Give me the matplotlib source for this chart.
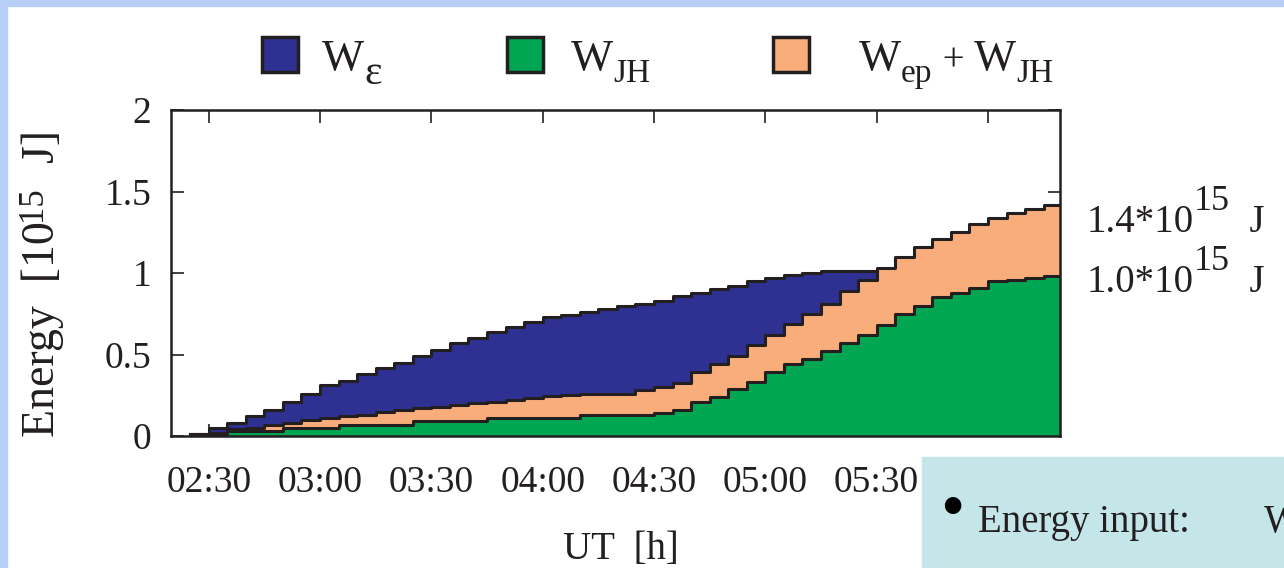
import numpy as np
import matplotlib
matplotlib.use("Agg")
import matplotlib.pyplot as plt
from matplotlib.patches import Rectangle

plt.rcParams['font.family'] = ['Liberation Serif', 'DejaVu Serif']

# UT grid, minutes after 00:00 (every 5 min)
ut_min = np.arange(145, 381, 5)
ut = ut_min / 60.0

# cumulative energies [10^15 J]
w_eps = [0.01, 0.05, 0.08, 0.12, 0.16, 0.21, 0.26, 0.31, 0.34, 0.38,
         0.42, 0.45, 0.49, 0.53, 0.57, 0.60, 0.64, 0.67, 0.70, 0.73,
         0.74, 0.76, 0.78, 0.80, 0.81, 0.83, 0.86, 0.88, 0.90, 0.92,
         0.95, 0.97, 0.99, 1.00, 1.01, 1.01, 1.01, 1.01, 1.01, 1.01,
         1.01, 1.01, 1.01, 1.01, 1.01, 1.01, 1.01, 1.01]
w_ep_jh = [0.01, 0.02, 0.04, 0.05, 0.07, 0.08, 0.10, 0.11, 0.12, 0.13,
           0.15, 0.16, 0.17, 0.18, 0.19, 0.20, 0.21, 0.22, 0.235, 0.245,
           0.25, 0.26, 0.26, 0.26, 0.28, 0.30, 0.325, 0.39, 0.44, 0.49,
           0.56, 0.62, 0.69, 0.75, 0.81, 0.89, 0.96, 1.03, 1.10, 1.16,
           1.21, 1.25, 1.30, 1.34, 1.37, 1.39, 1.42, 1.43]
w_jh = [0.01, 0.01, 0.03, 0.03, 0.03, 0.05, 0.05, 0.05, 0.07, 0.07,
        0.07, 0.07, 0.09, 0.09, 0.09, 0.09, 0.11, 0.11, 0.11, 0.11,
        0.11, 0.13, 0.13, 0.13, 0.13, 0.14, 0.16, 0.21, 0.24, 0.29,
        0.33, 0.39, 0.44, 0.47, 0.52, 0.57, 0.62, 0.68, 0.75, 0.80,
        0.85, 0.88, 0.91, 0.95, 0.96, 0.97, 0.98, 0.99]

xticks = [2.5, 3.0, 3.5, 4.0, 4.5, 5.0, 5.5, 6.0]
xlabels = ['02:30', '03:00', '03:30', '04:00', '04:30', '05:00', '05:30', '06:00']
yticks = [0, 0.5, 1, 1.5, 2]
ylabels = ['0', '0.5', '1', '1.5', '2']

c_blue = '#2e3192'
c_green = '#00a651'
c_orange = '#f9ad7a'
c_edge = '#231f20'

W, H = 1284, 568
fig = plt.figure(figsize=(W / 100, H / 100), dpi=100)
fig.patch.set_facecolor('white')
rend = fig.canvas.get_renderer()


def put_pieces(x, y, pieces, rotation=0, zorder=3):
    # x, y in pixels from top-left; pieces = (text, size, raise_px)
    for s, size, up in pieces:
        if rotation == 90:
            px, py = x - up, y
        else:
            px, py = x, y - up
        t = fig.text(px / W, 1 - py / H, s, fontsize=size, rotation=rotation,
                     rotation_mode='anchor', ha='left', va='baseline',
                     zorder=zorder, color='#231f20')
        bb = t.get_window_extent(rend)
        if rotation == 90:
            y -= bb.height
        else:
            x += bb.width


# slide background bits
fig.patches.append(Rectangle((0, 1 - 6 / H), 1, 6 / H, transform=fig.transFigure,
                             color='#b7cef7', zorder=0))
fig.patches.append(Rectangle((0, 0), 7 / W, 1, transform=fig.transFigure,
                             color='#b7cef7', zorder=0))

ax = fig.add_axes([171 / W, 1 - 436 / H, (1060 - 171) / W, (436 - 110) / H])

ax.fill_between(ut, 0, w_eps, step='post', color=c_blue, lw=0, zorder=1)
ax.step(ut, w_eps, where='post', color=c_edge, lw=2.2, zorder=2)
ax.fill_between(ut, 0, w_ep_jh, step='post', color=c_orange, lw=0, zorder=3)
ax.step(ut, w_ep_jh, where='post', color=c_edge, lw=2.2, zorder=4)
ax.fill_between(ut, 0, w_jh, step='post', color=c_green, lw=0, zorder=5)
ax.step(ut, w_jh, where='post', color=c_edge, lw=2.2, zorder=6)

ax.set_xlim(2.3306, 6.3235)
ax.set_ylim(0, 2)
ax.set_xticks(xticks)
ax.set_xticklabels(xlabels)
ax.set_yticks(yticks)
ax.set_yticklabels(ylabels)
ax.tick_params(direction='in', length=9, width=1.2, top=True, right=True,
               labelsize=27, colors='#231f20')
ax.tick_params(axis='x', pad=21)
ax.tick_params(axis='y', pad=14)
ax.get_xticklabels()[-1].set_visible(False)  # hidden behind the slide box
for s in ax.spines.values():
    s.set_linewidth(1.8)
    s.set_color(c_edge)
    s.set_zorder(7)

# axis labels
put_pieces(54, 437, [('Energy  [10', 33, 0), ('15', 25, 13), ('  J]', 33, 0)], rotation=90)
fig.text(621 / W, 1 - 550 / H, 'UT  [h]', ha='center', va='center', fontsize=28,
         color='#231f20')

# legend on top
leg = [(262, c_blue, [('W', 32, 0), ('ε', 30, -14)], 322),
       (507, c_green, [('W', 32, 0), ('JH', 24, -12)], 571),
       (773, c_orange, [('W', 32, 0), ('ep', 24, -12), (' + ', 28, 0),
                        ('W', 32, 0), ('JH', 24, -12)], 859)]
for x0, col, pieces, xt in leg:
    fig.patches.append(Rectangle((x0 / W, 1 - 72 / H), 36 / W, 35 / H,
                                 transform=fig.transFigure, facecolor=col,
                                 edgecolor=c_edge, lw=2.5, zorder=2))
    put_pieces(xt, 70, pieces)

# totals at the right
put_pieces(1087, 232, [('1.4*10', 28, 0), ('15', 26, 22), ('  J', 28, 0)])
put_pieces(1087, 292, [('1.0*10', 28, 0), ('15', 26, 22), ('  J', 28, 0)])

# text box of the slide
fig.patches.append(Rectangle((922 / W, 0), 1 - 922 / W, (568 - 457) / H,
                             transform=fig.transFigure, color='#c4e6e9', zorder=5))
fig.text(952 / W, 1 - 512 / H, '\u2022', ha='center', va='center', fontsize=50,
         zorder=6, color='black')
fig.text(978 / W, 1 - 532 / H, 'Energy input:', ha='left', va='baseline',
         fontsize=28, zorder=6, color='#231f20')
fig.text(1264 / W, 1 - 532 / H, 'W', ha='left', va='baseline',
         fontsize=28, zorder=6, color='#231f20')

fig.savefig('out.png', dpi=100)
